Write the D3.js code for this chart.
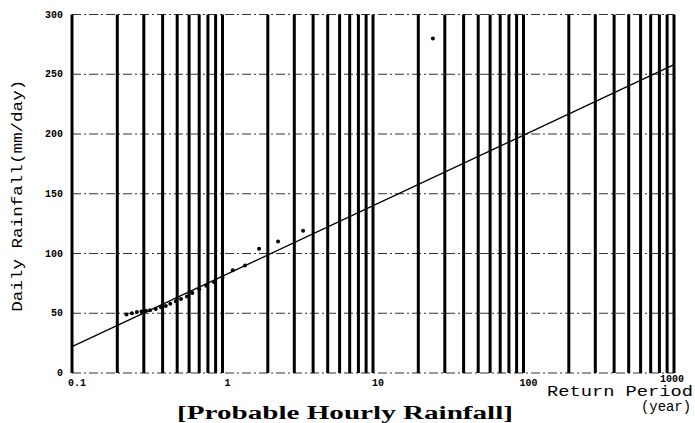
<!DOCTYPE html>
<html>
<head>
<meta charset="utf-8">
<script src="https://cdn.jsdelivr.net/npm/d3@7"></script>
<style>
  body { margin: 0; background: #fff; }
</style>
</head>
<body>
<div id="container"></div>
<script>

// Observed rainfall (return period in years, daily rainfall mm/day)
const obsPeriod = [0.23, 0.25, 0.27, 0.29, 0.31, 0.33, 0.36, 0.39, 0.42, 0.45, 0.49, 0.53,
                   0.58, 0.63, 0.70, 0.78, 0.88, 1.0, 1.17, 1.41, 1.75, 2.34, 3.43, 25];
const obsRain = [49, 50, 51, 51.5, 52, 52.5, 53.5, 55, 56, 58, 60, 62,
                 64, 67, 70, 73, 76, 80, 86, 90, 104, 110, 119, 280];

// Fitted probability line
const fitPeriod = [0.1, 1000];
const fitRain = [22, 258];

// Tick labels
const xTickValues = [0.1, 1, 10, 100, 1000];
const xTickLabels = ["0.1", "1", "10", "100", "1000"];
const yTickValues = [0, 50, 100, 150, 200, 250, 300];

// Declare the container size.
const width = 695;
const height = 423;

// Declare margins.
const marginTop = 14.5;
const marginRight = 21;
const marginBottom = 50;
const marginLeft = 72;

const x = d3.scaleLog()
    .domain([0.1, 1000])
    .range([marginLeft, width - marginRight]);

const y = d3.scaleLinear()
    .domain([0, 300])
    .range([height - marginBottom, marginTop]);

const svg = d3.create("svg")
    .attr("width", width)
    .attr("height", height);

container.append(svg.node());

// Horizontal dashed grid lines
svg.append("g")
  .selectAll("line")
  .data(yTickValues)
  .enter()
  .append("line")
    .attr("x1", marginLeft)
    .attr("x2", width - marginRight)
    .attr("y1", d => y(d))
    .attr("y2", d => y(d))
    .attr("stroke", "#333")
    .attr("stroke-width", 1)
    .attr("stroke-dasharray", "9,3,2,3");

// Heavy vertical log grid lines (1..9 per decade)
svg.append("g")
  .selectAll("line")
  .data(x.ticks())
  .enter()
  .append("line")
    .attr("x1", d => x(d))
    .attr("x2", d => x(d))
    .attr("y1", y(300))
    .attr("y2", y(0))
    .attr("stroke", "#000")
    .attr("stroke-width", 3);

// Y tick labels
svg.append("g")
  .selectAll("text")
  .data(yTickValues)
  .enter()
  .append("text")
    .attr("x", marginLeft - 9)
    .attr("y", d => y(d) + 3)
    .attr("text-anchor", "end")
    .attr("font-family", "Liberation Mono, monospace")
    .attr("font-weight", "bold")
    .attr("font-size", 10)
    .text(d => d);

// X tick labels
svg.append("g")
  .selectAll("text")
  .data(xTickValues)
  .enter()
  .append("text")
    .attr("x", (d, i) => i === 4 ? x(d) - 2 : x(d) + 5)
    .attr("y", (d, i) => i === 4 ? y(0) + 9 : y(0) + 13)
    .attr("text-anchor", "middle")
    .attr("font-family", "Liberation Mono, monospace")
    .attr("font-weight", "bold")
    .attr("font-size", 10)
    .text((d, i) => xTickLabels[i]);

// Fitted line
const line = d3.line()
    .x(d => x(d[0]))
    .y(d => y(d[1]));

svg.append("path")
    .datum(fitPeriod.map((p, i) => [p, fitRain[i]]))
    .attr("fill", "none")
    .attr("stroke", "#000")
    .attr("stroke-width", 1.3)
    .attr("d", line);

// Observed points
svg.append("g")
  .selectAll("circle")
  .data(obsPeriod.map((p, i) => [p, obsRain[i]]))
  .enter()
  .append("circle")
    .attr("cx", d => x(d[0]))
    .attr("cy", d => y(d[1]))
    .attr("r", 2)
    .attr("fill", "#000");

// Y axis label
svg.append("text")
    .attr("transform", "translate(22," + (y(150) + 2) + ") rotate(-90)")
    .attr("text-anchor", "middle")
    .attr("font-family", "Liberation Mono, monospace")
    .attr("font-size", 14)
    .attr("textLength", 232)
    .attr("lengthAdjust", "spacingAndGlyphs")
    .text("Daily Rainfall(mm/day)");

// X axis label
svg.append("text")
    .attr("x", 547)
    .attr("y", 396)
    .attr("font-family", "Liberation Mono, monospace")
    .attr("font-size", 15)
    .attr("textLength", 146)
    .attr("lengthAdjust", "spacingAndGlyphs")
    .text("Return Period");

svg.append("text")
    .attr("x", 641)
    .attr("y", 411)
    .attr("font-family", "Liberation Mono, monospace")
    .attr("font-size", 14)
    .attr("textLength", 50)
    .attr("lengthAdjust", "spacingAndGlyphs")
    .text("(year)");

// Title
svg.append("text")
    .attr("x", 345)
    .attr("y", 419)
    .attr("text-anchor", "middle")
    .attr("font-family", "Liberation Serif, serif")
    .attr("font-weight", "bold")
    .attr("font-size", 18)
    .attr("textLength", 336)
    .attr("lengthAdjust", "spacingAndGlyphs")
    .text("[Probable Hourly Rainfall]");

</script>
</body>
</html>
